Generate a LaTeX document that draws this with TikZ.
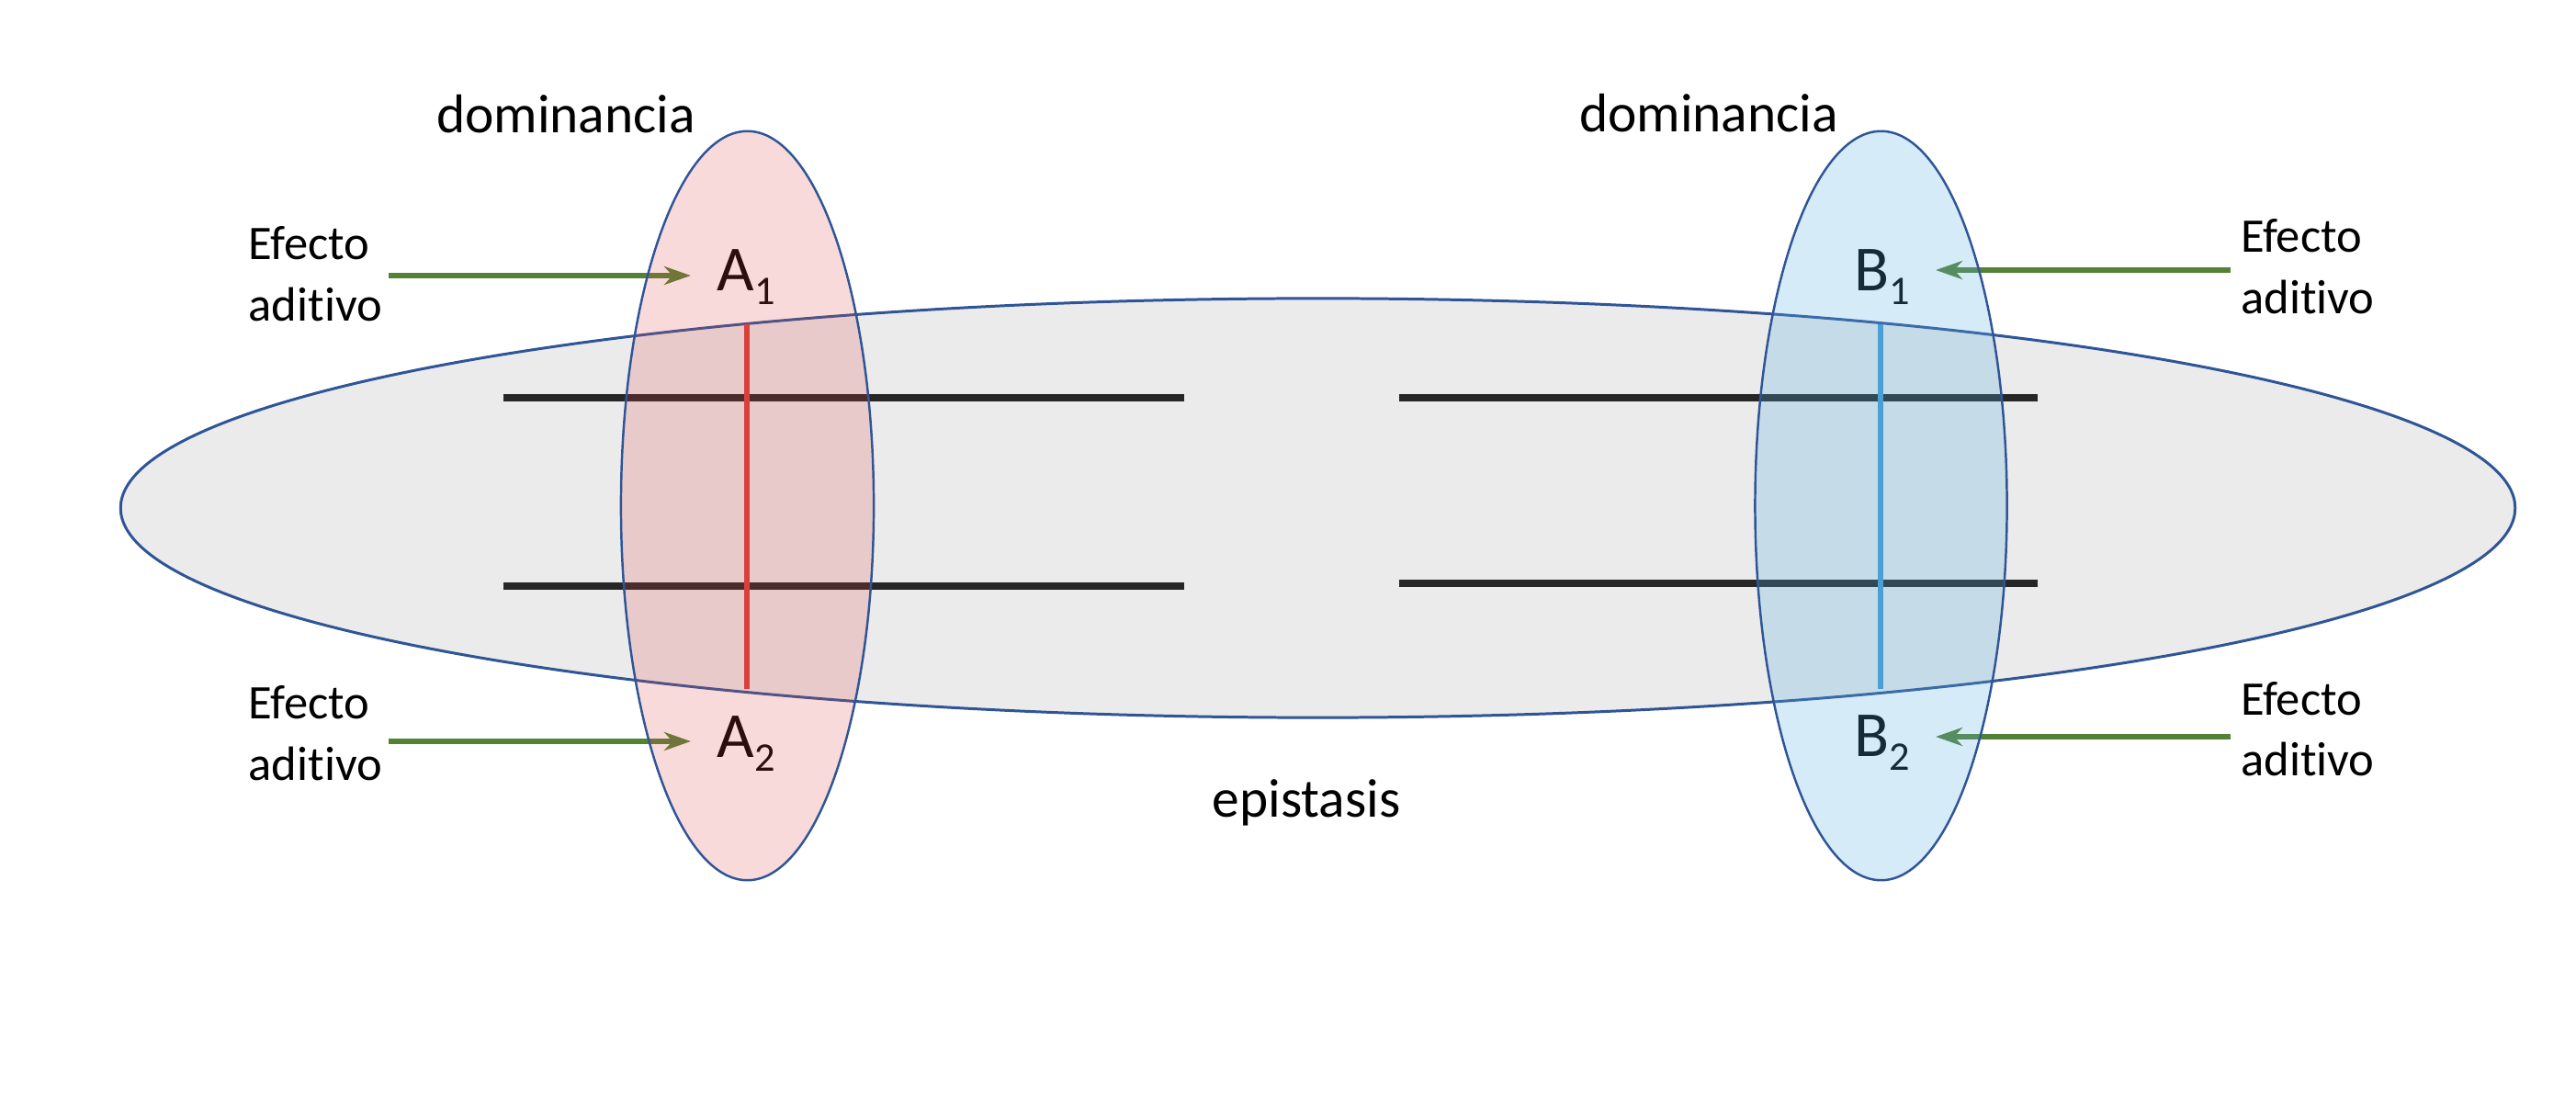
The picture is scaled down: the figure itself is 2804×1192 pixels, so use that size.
\documentclass[tikz,border=0pt]{standalone}
\usepackage{fontspec}
\setmainfont{Carlito}[Ligatures=NoCommon]
\usetikzlibrary{arrows.meta}
\definecolor{edgeblue}{RGB}{47,85,151}
\definecolor{epigray}{RGB}{235,235,235}
\definecolor{redfill}{RGB}{225,70,70}
\definecolor{bluefill}{RGB}{91,175,226}
\definecolor{redline}{RGB}{218,64,58}
\definecolor{blueline}{RGB}{74,160,214}
\definecolor{arrowgreen}{RGB}{84,130,53}
\definecolor{chrom}{RGB}{38,38,38}
\newcommand\subidx[1]{\raisebox{-0.15cm}{\fontsize{12.6pt}{12.6pt}\selectfont #1}}
\begin{document}
\begin{tikzpicture}[x=0.01cm,y=-0.01cm,
  lbl/.style={inner sep=0pt, font=\fontsize{16.9pt}{20pt}\selectfont, anchor=base},
  effl/.style={inner ysep=0pt, inner xsep=0.06cm, font=\fontsize{14.94pt}{18.78pt}\selectfont, anchor=base west},
  effr/.style={inner ysep=0pt, inner xsep=0.105cm, font=\fontsize{14.94pt}{18.78pt}\selectfont, anchor=base west},
  allele/.style={inner sep=0pt, font=\fontsize{19.9pt}{24pt}\selectfont, anchor=base west},
  chromline/.style={draw=chrom, line width=2pt},
  arr/.style={draw=arrowgreen, line width=1.5pt, -{Stealth[length=0.29cm,width=0.2cm,inset=0.09cm]}},
  bigoval/.style={draw=edgeblue, line width=0.85pt, fill=epigray},
  locusA/.style={draw=edgeblue, line width=0.7pt, fill=redfill, fill opacity=0.2},
  locusB/.style={draw=edgeblue, line width=0.7pt, fill=bluefill, fill opacity=0.25},
]
\useasboundingbox (0,0) rectangle (2804,1192);
% epistasis oval
\draw[bigoval] (1434.5,553) ellipse [x radius=13.025cm, y radius=2.28cm];
% chromosomes
\draw[chromline] (548,433) -- (1289,433);
\draw[chromline] (548,638) -- (1289,638);
\draw[chromline] (1523,433) -- (2218,433);
\draw[chromline] (1523,635) -- (2218,635);
% labels
\node[lbl] (domA) at (616,145) {dominancia};
\node[lbl] (domB) at (1860,144) {dominancia};
\node[lbl] (epi) at (1422,889) {epistasis};
\node[effl] (effA1) at (264,283) {\begin{tabular}[t]{@{}l@{}}Efecto\\aditivo\end{tabular}};
\node[effl] (effA2) at (264,783) {\begin{tabular}[t]{@{}l@{}}Efecto\\aditivo\end{tabular}};
\node[effr] (effB1) at (2428,275) {\begin{tabular}[t]{@{}l@{}}Efecto\\aditivo\end{tabular}};
\node[effr] (effB2) at (2428,778) {\begin{tabular}[t]{@{}l@{}}Efecto\\aditivo\end{tabular}};
% alleles
\node[allele] (A1) at (780,317) {A\subidx{1}};
\node[allele] (A2) at (780,824) {A\subidx{2}};
\node[allele] (B1) at (2018,317) {B\subidx{1}};
\node[allele] (B2) at (2018,823) {B\subidx{2}};
% arrows
\coordinate (a1tip) at (752,300);
\coordinate (a2tip) at (752,807);
\coordinate (b1tip) at (2107,294);
\coordinate (b2tip) at (2107,802);
\draw[arr] (effA1.east |- a1tip) -- (a1tip);
\draw[arr] (effA2.east |- a2tip) -- (a2tip);
\draw[arr] (effB1.west |- b1tip) -- (b1tip);
\draw[arr] (effB2.west |- b2tip) -- (b2tip);
% dominance ovals
\draw[locusA] (813.5,550.5) ellipse [x radius=1.375cm, y radius=4.075cm];
\draw[locusB] (2047.5,550.5) ellipse [x radius=1.37cm, y radius=4.075cm];
% loci
\draw[draw=redline, line width=1.5pt] (813,353) -- (813,750);
\draw[draw=blueline, line width=1.5pt] (2047,353) -- (2047,750);
\end{tikzpicture}
\end{document}
